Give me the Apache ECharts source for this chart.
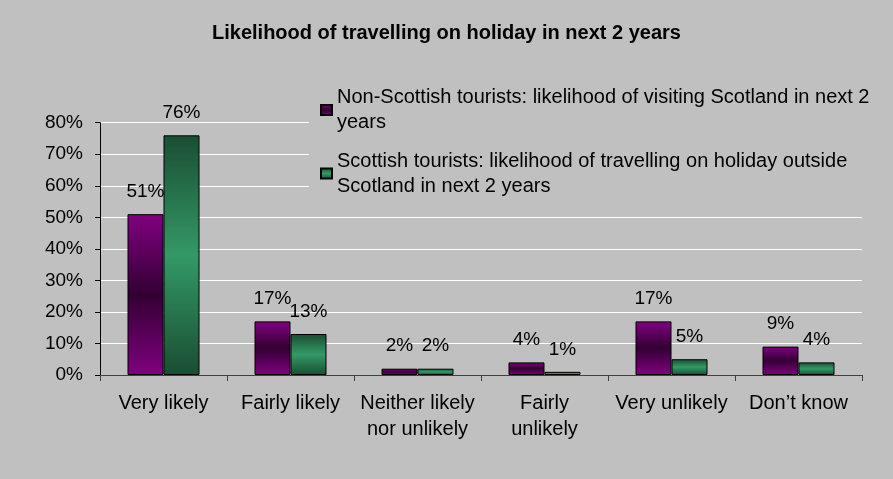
<!DOCTYPE html>
<html>
<head>
<meta charset="utf-8">
<script src="https://cdn.jsdelivr.net/npm/echarts@6/dist/echarts.min.js"></script>
<style>
  html, body { margin: 0; padding: 0; background: #c0c0c0; }
  #chart { width: 893px; height: 479px; }
</style>
</head>
<body>
<div id="chart"></div>
<script>
// Response categories (x axis)
const categories = ['Very likely', 'Fairly likely', 'Neither likely\nnor unlikely', 'Fairly\nunlikely', 'Very unlikely', 'Don\u2019t know'];

// Series names as shown in the legend
const nonScottishName = 'Non-Scottish tourists: likelihood of visiting Scotland in next 2 years';
const scottishName = 'Scottish tourists: likelihood of travelling on holiday outside Scotland in next 2 years';

// Percent values per category
const nonScottishValues = [51, 17, 2, 4, 17, 9];
const scottishValues = [76, 13, 2, 1, 5, 4];

// Y axis range (percent)
const yMin = 0;
const yMax = 80;
const yStep = 10;

const FONT = '"Liberation Sans", Arial, sans-serif';

const purpleFill = new echarts.graphic.LinearGradient(0, 0, 0, 1, [
  { offset: 0, color: '#800080' },
  { offset: 0.5, color: '#330033' },
  { offset: 1, color: '#800080' }
]);
const greenFill = new echarts.graphic.LinearGradient(0, 0, 0, 1, [
  { offset: 0, color: '#1a4d33' },
  { offset: 0.5, color: '#339966' },
  { offset: 1, color: '#1a4d33' }
]);

// Legend names are wrapped onto two lines; top padding keeps the swatch level with line one
const legendLines = {};
legendLines[nonScottishName] = 'Non-Scottish tourists: likelihood of visiting Scotland in next 2\nyears';
legendLines[scottishName] = 'Scottish tourists: likelihood of travelling on holiday outside\nScotland in next 2 years';

function legendFor(name, top) {
  return {
    data: [name],
    orient: 'vertical',
    left: 309,
    top: top,
    padding: [0, 60, 0, 11],
    backgroundColor: '#c0c0c0',
    icon: 'rect',
    itemWidth: 11,
    itemHeight: 10,
    itemGap: 0,
    formatter: n => legendLines[n],
    textStyle: {
      fontFamily: FONT,
      fontSize: 20,
      color: '#000',
      lineHeight: 25,
      padding: [25, 0, 0, 0]
    }
  };
}

const labelStyle = {
  show: true,
  position: 'top',
  distance: 13,
  formatter: p => p.value + '%',
  fontFamily: FONT,
  fontSize: 19,
  color: '#000'
};

const chart = echarts.init(document.getElementById('chart'), null, { renderer: 'canvas' });
chart.setOption({
  backgroundColor: '#c0c0c0',
  animation: false,
  title: {
    text: 'Likelihood of travelling on holiday in next 2 years',
    left: 'center',
    top: 18,
    textStyle: { fontFamily: FONT, fontSize: 20, fontWeight: 'bold', color: '#000' }
  },
  legend: [legendFor(nonScottishName, 72.5), legendFor(scottishName, 136)],
  grid: { left: 100, right: 31, top: 122.7, bottom: 104, containLabel: false },
  xAxis: {
    type: 'category',
    data: categories,
    axisLine: { lineStyle: { color: '#404040', width: 1 } },
    axisTick: { show: true, length: 6, lineStyle: { color: '#404040' } },
    axisLabel: {
      interval: 0,
      margin: 15,
      fontFamily: FONT,
      fontSize: 20,
      lineHeight: 26,
      color: '#000'
    }
  },
  yAxis: {
    type: 'value',
    min: yMin,
    max: yMax,
    interval: yStep,
    axisLine: { show: true, lineStyle: { color: '#000', width: 1 } },
    axisTick: { show: true, length: 5, lineStyle: { color: '#000' } },
    axisLabel: {
      formatter: '{value}%',
      margin: 17,
      fontFamily: FONT,
      fontSize: 19,
      color: '#000'
    },
    splitLine: { show: true, lineStyle: { color: '#ffffff', width: 1 } }
  },
  series: [
    {
      name: nonScottishName,
      type: 'bar',
      data: nonScottishValues,
      barWidth: 36,
      barGap: '0%',
      itemStyle: { color: purpleFill, borderColor: '#000', borderWidth: 1 },
      label: labelStyle
    },
    {
      name: scottishName,
      type: 'bar',
      data: scottishValues,
      barWidth: 36,
      barGap: '0%',
      itemStyle: { color: greenFill, borderColor: '#000', borderWidth: 1 },
      label: labelStyle
    }
  ]
});
</script>
</body>
</html>
